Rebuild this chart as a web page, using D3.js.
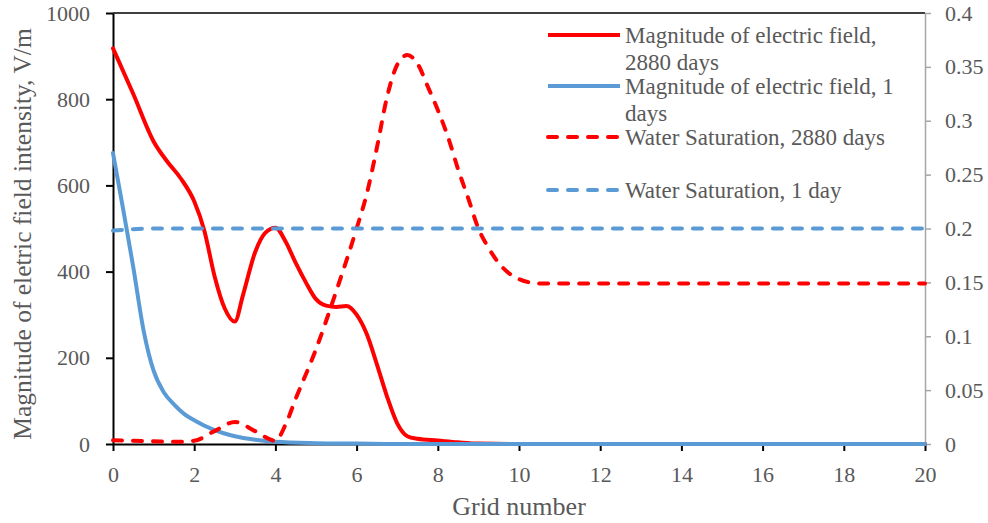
<!DOCTYPE html>
<html>
<head>
<meta charset="utf-8">
<script src="https://cdn.jsdelivr.net/npm/d3@7"></script>
<style>
  body { margin: 0; background: #fff; }
</style>
</head>
<body>
<div id="chart"></div>
<script>
// grid numbers + values
const gridE2880 = [0, 0.5, 1, 1.33, 1.67, 2, 2.25, 2.5, 2.75, 3, 3.2, 3.5, 3.75, 4, 4.25, 4.5, 4.75, 5, 5.25, 5.5, 5.75, 6, 6.25, 6.5, 6.75, 7, 7.25, 7.5, 8, 8.5, 9, 10, 12, 14, 16, 18, 20];
const fieldE2880 = [918, 812, 702, 656, 616, 563, 495, 390, 315, 284, 345, 445, 490, 502, 470, 420, 375, 336, 321, 318, 320, 300, 255, 185, 110, 48, 18, 12, 8, 4, 1, 0, 0, 0, 0, 0, 0];

const gridE1 = [0, 0.25, 0.5, 0.75, 1, 1.25, 1.5, 1.75, 2, 2.5, 3, 3.5, 4, 5, 6, 7, 8, 10, 12, 14, 16, 18, 20];
const fieldE1 = [675, 545, 410, 265, 170, 120, 92, 70, 55, 32, 18, 10, 5, 2, 1, 0, 0, 0, 0, 0, 0, 0, 0];

const gridSw2880 = [0, 0.5, 1, 1.5, 2, 2.5, 3, 3.5, 4, 4.25, 4.5, 5, 5.5, 6, 6.25, 6.5, 6.75, 7, 7.25, 7.5, 7.75, 8, 8.25, 8.5, 8.75, 9, 9.25, 9.5, 10, 10.5, 12, 14, 16, 18, 20];
const satSw2880 = [0.0035, 0.003, 0.0025, 0.002, 0.003, 0.012, 0.0205, 0.012, 0.003, 0.018, 0.042, 0.088, 0.142, 0.2, 0.232, 0.275, 0.322, 0.352, 0.361, 0.353, 0.332, 0.31, 0.285, 0.255, 0.228, 0.2, 0.182, 0.168, 0.153, 0.149, 0.149, 0.149, 0.149, 0.149, 0.149];

const gridSw1 = [0, 1, 2, 4, 6, 8, 10, 12, 14, 16, 18, 20];
const satSw1 = [0.198, 0.2, 0.2, 0.2, 0.2, 0.2, 0.2, 0.2, 0.2, 0.2, 0.2, 0.2];

const xTicks = [0, 2, 4, 6, 8, 10, 12, 14, 16, 18, 20];
const leftTicks = [0, 200, 400, 600, 800, 1000];
const rightTicks = [0, 0.05, 0.1, 0.15, 0.2, 0.25, 0.3, 0.35, 0.4];

const legendLabels = [
  ["Magnitude of electric field,", "2880 days"],
  ["Magnitude of electric field, 1", "days"],
  ["Water Saturation, 2880 days"],
  ["Water Saturation, 1 day"]
];

const W = 988, H = 523;
const margin = { top: 13, right: 63, bottom: 79, left: 113 };
const textColor = "#595959";
const red = "#FF0000", blue = "#5B9BD5";
const serif = "'Liberation Serif', 'Times New Roman', Times, 'DejaVu Serif', serif";

const svg = d3.select("#chart").append("svg")
  .attr("width", W).attr("height", H)
  .style("font-family", serif);

const x = d3.scaleLinear().domain([0, 20]).range([margin.left, W - margin.right]);
const yL = d3.scaleLinear().domain([0, 1000]).range([H - margin.bottom, margin.top]);
const yR = d3.scaleLinear().domain([0, 0.4]).range([H - margin.bottom, margin.top]);

// top border of plot area
svg.append("line")
  .attr("x1", x(0)).attr("x2", x(20))
  .attr("y1", yL(1000)).attr("y2", yL(1000))
  .attr("stroke", "#000").attr("stroke-width", 1.5);

// right axis (grey)
const rAxis = svg.append("g")
  .attr("transform", `translate(${x(20)},0)`)
  .call(d3.axisRight(yR).tickValues(rightTicks).tickSize(6).tickPadding(14)
    .tickSizeOuter(0).tickFormat(d => String(+d.toFixed(2))));
rAxis.select(".domain").attr("stroke", "#A6A6A6").attr("stroke-width", 1.5);
rAxis.selectAll(".tick line").attr("stroke", "#A6A6A6").attr("stroke-width", 1.5);

// left axis
const lAxis = svg.append("g")
  .attr("transform", `translate(${x(0)},0)`)
  .call(d3.axisLeft(yL).tickValues(leftTicks).tickSize(7).tickPadding(16)
    .tickSizeOuter(0).tickFormat(d3.format("d")));
lAxis.select(".domain").attr("stroke", "#000").attr("stroke-width", 2);
lAxis.selectAll(".tick line").attr("stroke", "#000").attr("stroke-width", 2);

// bottom axis
const bAxis = svg.append("g")
  .attr("transform", `translate(0,${yL(0)})`)
  .call(d3.axisBottom(x).tickValues(xTicks).tickSize(7).tickPadding(15).tickSizeOuter(0));
bAxis.select(".domain").attr("stroke", "#000").attr("stroke-width", 2);
bAxis.selectAll(".tick line").attr("stroke", "#000").attr("stroke-width", 2);

svg.selectAll("g").attr("font-family", null);
svg.selectAll(".tick text")
  .attr("fill", textColor)
  .style("font-size", "22px");

// series
const smooth = d3.curveMonotoneX;
const lineL = d3.line().x(d => x(d[0])).y(d => yL(d[1])).curve(smooth);
const lineR = d3.line().x(d => x(d[0])).y(d => yR(d[1])).curve(smooth);

const series = [
  { pts: d3.zip(gridE2880, fieldE2880), gen: lineL, color: red, dash: null },
  { pts: d3.zip(gridE1, fieldE1), gen: lineL, color: blue, dash: null },
  { pts: d3.zip(gridSw2880, satSw2880), gen: lineR, color: red, dash: "9,11" },
  { pts: d3.zip(gridSw1, satSw1), gen: lineR, color: blue, dash: "9,11" }
];

series.forEach(s => {
  svg.append("path")
    .attr("d", s.gen(s.pts))
    .attr("fill", "none")
    .attr("stroke", s.color)
    .attr("stroke-width", 4)
    .attr("stroke-linecap", "round")
    .attr("stroke-dasharray", s.dash);
});

// legend
const legendY = [35, 86, 137, 190];
const legend = svg.append("g");
series.forEach((s, i) => {
  legend.append("line")
    .attr("x1", 548).attr("x2", 620)
    .attr("y1", legendY[i]).attr("y2", legendY[i])
    .attr("stroke", s.color)
    .attr("stroke-width", 4)
    .attr("stroke-linecap", s.dash ? "round" : "butt")
    .attr("stroke-dasharray", s.dash);
  const t = legend.append("text")
    .attr("x", 625).attr("y", legendY[i] + 8)
    .attr("fill", textColor)
    .attr("font-size", 23);
  legendLabels[i].forEach((ln, j) => {
    t.append("tspan").attr("x", 625).attr("dy", j === 0 ? 0 : 27).text(ln);
  });
});

// axis titles
svg.append("text")
  .attr("transform", `translate(31,${(18 + 450) / 2}) rotate(-90)`)
  .attr("text-anchor", "middle")
  .attr("fill", textColor)
  .attr("font-size", 25.5)
  .text("Magnitude of eletric field intensity,  V/m");

svg.append("text")
  .attr("x", (x(0) + x(20)) / 2).attr("y", 515)
  .attr("text-anchor", "middle")
  .attr("fill", textColor)
  .attr("font-size", 26)
  .text("Grid number");
</script>
</body>
</html>
